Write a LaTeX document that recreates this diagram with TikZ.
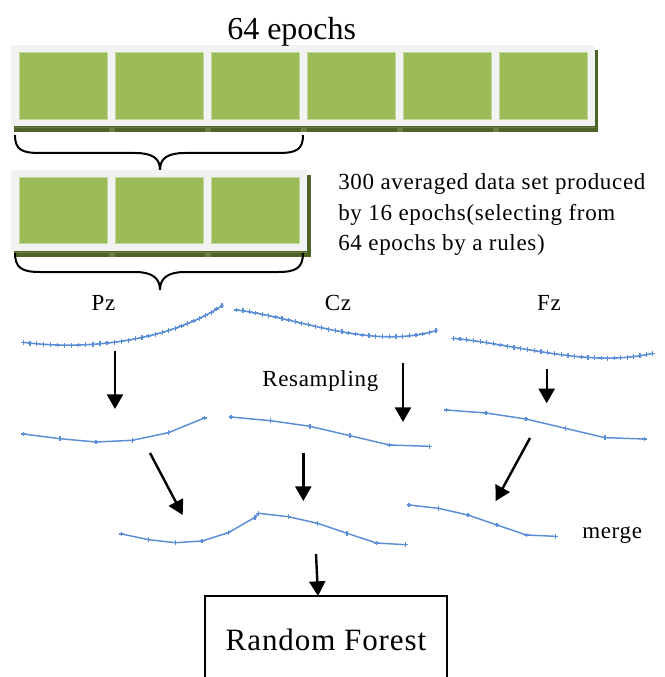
\documentclass[tikz,border=0pt]{standalone}
\usepackage{fontspec}
\setmainfont{Liberation Serif}
\newfontfamily\spc[LetterSpace=3]{Liberation Serif}
\usetikzlibrary{arrows.meta,calc}
\definecolor{cellgreen}{HTML}{9BBB59}
\definecolor{celledge}{HTML}{C4D79B}
\definecolor{stripgray}{HTML}{F2F2F2}
\definecolor{shadowgreen}{HTML}{4F6228}
\definecolor{jointgreen}{HTML}{6E7F45}
\definecolor{curveblue}{HTML}{5B8ED6}
\tikzset{
  cell/.style={fill=cellgreen, draw=celledge, line width=0.5pt},
  bracepath/.style={draw=black, line width=1.5pt},
  arr/.style={-{Triangle[length=11pt,width=12pt]}, line width=1.8pt},
  dense/.style={curveblue, line width=1.2pt},
  plusmark/.style={curveblue, line width=0.9pt},
  sparse/.style={curveblue, line width=1.1pt, mark=+, mark size=1.8pt,
    mark options={line width=0.8pt}},
  lbl/.style={font=\spc\fontsize{17.25}{22.5}\selectfont, inner sep=0pt},
}
\begin{document}
\begin{tikzpicture}[x=0.75pt,y=-0.75pt]
\useasboundingbox (0,0) rectangle (664,677);

% ---- top strip (64 epochs)
\fill[shadowgreen] (14,50) rectangle (598,132);
\fill[stripgray] (11,45) rectangle (595.3,126);
\draw[jointgreen, line width=0.4pt] (15,127.6) -- (595,127.6);
\foreach \x in {19.3,115.3,211.3,307.3,403.3,499.3}{
  \filldraw[cell] (\x,52.7) rectangle ++(88,66.3);
}
\foreach \x in {107.5,203.5,299.5,395.5,491.5}{
  \fill[jointgreen] (\x+1,127.2) rectangle ++(6,4.5);
}
\node[font=\fontsize{24}{28}\selectfont, anchor=base west, inner sep=0pt] (title) at (227,40) {64 epochs};

% ---- first brace
\draw[bracepath] (15,135) .. controls (15,150) and (22,153) .. (40,153) -- (135,153)
  .. controls (152,153) and (160,158) .. (160,170)
  .. controls (160,158) and (168,153) .. (185,153) -- (278,153)
  .. controls (296,153) and (303,150) .. (303,135);

% ---- second strip (16 epochs)
\fill[shadowgreen] (14,175) rectangle (310.5,256.5);
\fill[stripgray] (11,170) rectangle (306.7,250.7);
\draw[jointgreen, line width=0.4pt] (15,252.3) -- (306.7,252.3);
\foreach \x in {19.3,115.3,211.3}{
  \filldraw[cell] (\x,177.7) rectangle ++(88,65.6);
}
\foreach \x in {107.5,203.5}{
  \fill[jointgreen] (\x+1,251.8) rectangle ++(6,4.7);
}

% ---- second brace
\draw[bracepath] (15,253) .. controls (15,268) and (22,272) .. (40,272) -- (135,272)
  .. controls (152,272) and (160,278) .. (160,290)
  .. controls (160,278) and (168,272) .. (185,272) -- (278,272)
  .. controls (296,272) and (303,268) .. (303,253);

\node[lbl, anchor=base west] (desc1) at (338,190) {300 averaged data set produced};
\node[lbl, anchor=base west] (desc2) at (338,220.5) {by 16 epochs(selecting from};
\node[lbl, anchor=base west] (desc3) at (338,250.5) {64 epochs by a rules)};

% ---- channel labels
\node[lbl, anchor=base] (pz) at (103.5,310.7) {Pz};
\node[lbl, anchor=base] (cz) at (338,310.7) {Cz};
\node[lbl, anchor=base] (fz) at (549,310.7) {Fz};

% ---- dense curves (with evenly placed markers)
\draw[dense] (23.3,342.3) .. controls (90,351) and (170,340) .. (222,305.7)
  foreach \i [evaluate=\i as \t using \i/30] in {0,...,30} {coordinate[pos=\t] (dp\i)};
\draw[dense] (236.7,310) .. controls (300,318) and (370,350) .. (436,330.7)
  foreach \i [evaluate=\i as \t using \i/30] in {0,...,30} {coordinate[pos=\t] (dc\i)};
\draw[dense] (453.3,338.3) .. controls (520,345) and (590,368) .. (652.7,353.3)
  foreach \i [evaluate=\i as \t using \i/30] in {0,...,30} {coordinate[pos=\t] (df\i)};
\foreach \c in {dp,dc,df}{
  \foreach \i in {0,...,30}{
    \draw[plusmark] (\c\i) +(-1.8pt,0) -- +(1.8pt,0) +(0,-1.8pt) -- +(0,1.8pt);
  }
}

\node[lbl, anchor=base west] (resamp) at (262,386) {Resampling};

% ---- resampled curves
\draw[sparse] plot coordinates {(23.3,434) (60,438.7) (96,442) (132.3,440.3) (168.3,432.7) (204.3,418)};
\draw[sparse] plot coordinates {(231,417) (270.7,420.7) (310,426.3) (350,435.7) (389.7,445) (429.3,446.3)};
\draw[sparse] plot coordinates {(446.3,410) (486,413) (526,419) (565.3,428.3) (605,437.7) (644.7,439)};

% ---- merged curves
\draw[sparse] plot coordinates {(121.7,534) (148.7,539.7) (175.3,542.7) (202,541) (228.3,532.7) (255,517.3) (258.7,513.3) (288.3,516.7) (317.7,523.3) (347,533.3) (376.3,543) (405.7,544.7)};
\draw[sparse] plot coordinates {(409,505) (438.3,508.3) (468,515) (497,525) (526.3,535) (555.3,536.3)};

\node[lbl, anchor=base west] (merge) at (582,538) {merge};

% ---- Random Forest box
\node[draw, line width=1.5pt, minimum width=181.5pt, minimum height=66pt, inner sep=0pt,
  font=\spc\fontsize{23.25}{27}\selectfont] (rf) at (326,640) {Random Forest};

% ---- arrows
\coordinate (a1s) at (115,351);   \coordinate (a1e) at (115,409);
\coordinate (a2s) at (403,363);   \coordinate (a2e) at (403,422);
\coordinate (a3s) at (546.7,369); \coordinate (a3e) at (546.7,403.3);
\coordinate (a4s) at (150,453);   \coordinate (a4e) at (182.7,515);
\coordinate (a5s) at (303.3,453); \coordinate (a5e) at (303.3,501);
\coordinate (a6s) at (530,438);   \coordinate (a6e) at (495.7,501);
\coordinate (a7s) at (316,554);   \coordinate (a7e) at (318,596);
\foreach \i in {1,...,7}{ \draw[arr] (a\i s) -- (a\i e); }
\end{tikzpicture}
\end{document}
